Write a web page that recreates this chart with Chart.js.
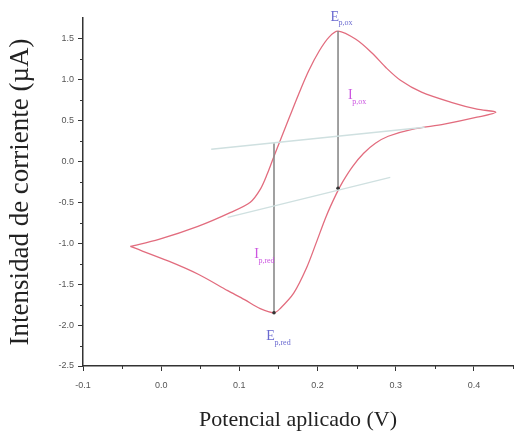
<!DOCTYPE html>
<html>
<head>
<meta charset="utf-8">
<script src="https://cdn.jsdelivr.net/npm/chart.js@4/dist/chart.umd.min.js"></script>
<style>
  html, body { margin: 0; padding: 0; background: #fff; }
  #wrap { width: 517px; height: 435px; }
</style>
</head>
<body>
<div id="wrap"><canvas id="c" width="517" height="435"></canvas></div>
<script>
// Cyclic voltammogram: potential (V) and current (µA), traced in scan order
const cvPotential = [-0.0395, -0.003, 0.047, 0.089, 0.114, 0.1267, 0.1355, 0.1443, 0.1544, 0.1645, 0.1758, 0.1884, 0.2023, 0.215, 0.2262,
  0.249, 0.27, 0.288, 0.306, 0.333, 0.371, 0.404, 0.428,
  0.404, 0.362, 0.321, 0.2904, 0.274, 0.259, 0.245, 0.2325, 0.2237, 0.211, 0.1985, 0.186, 0.1695, 0.152, 0.1443,
  0.1267, 0.1066, 0.0851, 0.0474, 0.0096, -0.0395];
const cvCurrent = [-1.04, -0.954, -0.795, -0.624, -0.50, -0.343, -0.159, 0.061, 0.306, 0.55, 0.82, 1.10, 1.35, 1.52, 1.59,
  1.49, 1.32, 1.14, 0.99, 0.844, 0.72, 0.636, 0.60,
  0.538, 0.453, 0.39, 0.306, 0.22, 0.098, -0.061, -0.245, -0.404, -0.673, -0.99, -1.30, -1.61, -1.80, -1.85,
  -1.80, -1.69, -1.58, -1.38, -1.22, -1.04];

// Baselines (extrapolated capacitive currents)
const baseRedPotential = [0.064, 0.337];
const baseRedCurrent = [0.147, 0.416];
const baseOxPotential = [0.085, 0.293];
const baseOxCurrent = [-0.685, -0.196];

// Peak current markers (vertical lines)
const peakRedPotential = [0.1443, 0.1443];
const peakRedCurrent = [0.22, -1.85];
const peakOxPotential = [0.2262, 0.2262];
const peakOxCurrent = [1.59, -0.33];

// Axis ticks
const xTicks = [-0.1, 0.0, 0.1, 0.2, 0.3, 0.4];
const yTicks = [-2.5, -2.0, -1.5, -1.0, -0.5, 0.0, 0.5, 1.0, 1.5];
const xMinorTicks = [-0.05, 0.05, 0.15, 0.25, 0.35, 0.45];
const yMinorTicks = [-2.25, -1.75, -1.25, -0.75, -0.25, 0.25, 0.75, 1.25];

// Annotation labels: main letter, subscript, anchor (E, I)
const labelMain = ['E', 'I', 'I', 'E'];
const labelSub = ['p,ox', 'p,ox', 'p,red', 'p,red'];
const labelE = [0.222, 0.242, 0.122, 0.140];
const labelI = [1.76, 0.80, -1.14, -2.14];
const labelColor = ['#6a6ad0', '#cc55e0', '#cc55e0', '#6a6ad0'];

const toXY = (xs, ys) => xs.map((x, i) => ({ x: x, y: ys[i] }));

const minorTicksPlugin = {
  id: 'minorTicks',
  afterDraw(chart) {
    const ctx = chart.ctx;
    const xs = chart.scales.x, ys = chart.scales.y;
    const a = chart.chartArea;
    ctx.save();
    ctx.strokeStyle = '#333';
    ctx.lineWidth = 1;
    ctx.beginPath();
    xMinorTicks.forEach(v => {
      const p = Math.round(xs.getPixelForValue(v)) + 0.5;
      ctx.moveTo(p, a.bottom); ctx.lineTo(p, a.bottom + 3);
    });
    yMinorTicks.forEach(v => {
      const p = Math.round(ys.getPixelForValue(v)) + 0.5;
      ctx.moveTo(a.left, p); ctx.lineTo(a.left - 3, p);
    });
    ctx.stroke();
    // annotation labels
    labelMain.forEach((t, i) => {
      const px = xs.getPixelForValue(labelE[i]);
      const py = ys.getPixelForValue(labelI[i]);
      ctx.fillStyle = labelColor[i];
      ctx.font = '14px "Liberation Serif", serif';
      ctx.textAlign = 'left';
      ctx.textBaseline = 'middle';
      const w = ctx.measureText(t).width;
      ctx.fillText(t, px - w / 2, py);
      ctx.font = '8px "Liberation Serif", serif';
      ctx.fillText(labelSub[i], px + w / 2 - 0.5, py + 6);
    });
    ctx.restore();
  }
};

new Chart(document.getElementById('c'), {
  type: 'scatter',
  data: {
    datasets: [
      { data: toXY(baseRedPotential, baseRedCurrent), showLine: true, borderColor: '#cfe0e0', borderWidth: 1.3, pointRadius: 0 },
      { data: toXY(baseOxPotential, baseOxCurrent), showLine: true, borderColor: '#cfe0e0', borderWidth: 1.3, pointRadius: 0 },
      { data: toXY(peakRedPotential, peakRedCurrent), showLine: true, borderColor: '#8a8a8a', borderWidth: 1.6, pointRadius: [0, 1.8], pointBackgroundColor: '#333', pointBorderWidth: 0 },
      { data: toXY(peakOxPotential, peakOxCurrent), showLine: true, borderColor: '#8a8a8a', borderWidth: 1.6, pointRadius: [0, 1.8], pointBackgroundColor: '#333', pointBorderWidth: 0 },
      { data: toXY(cvPotential, cvCurrent), showLine: true, borderColor: '#e26c7e', borderWidth: 1.3, pointRadius: 0, tension: 0.3 }
    ]
  },
  options: {
    responsive: false,
    animation: false,
    devicePixelRatio: 1,
    layout: { padding: { top: 18, right: 0, left: 0, bottom: 0 } },
    plugins: { legend: { display: false }, tooltip: { enabled: false } },
    scales: {
      x: {
        type: 'linear', min: -0.1, max: 0.45,
        afterBuildTicks: s => { s.ticks = xTicks.map(v => ({ value: v })); },
        afterFit: s => { s.height = 69; },
        grid: { drawOnChartArea: false, tickLength: 5, color: '#333', tickWidth: 1 },
        border: { display: true, color: '#333', width: 1.5 },
        ticks: { color: '#555', font: { family: 'Liberation Sans', size: 9 }, padding: 9, maxRotation: 0,
          callback: v => v.toFixed(1) },
        title: { display: true, text: 'Potencial aplicado (V)', color: '#222',
          font: { family: 'Liberation Serif', size: 22 }, padding: { top: 0, bottom: 2 } }
      },
      y: {
        type: 'linear', min: -2.5, max: 1.75,
        afterBuildTicks: s => { s.ticks = yTicks.map(v => ({ value: v })); },
        afterFit: s => { s.width = 83; },
        grid: { drawOnChartArea: false, tickLength: 5, color: '#333', tickWidth: 1 },
        border: { display: true, color: '#333', width: 1.5 },
        ticks: { color: '#555', font: { family: 'Liberation Sans', size: 9 }, padding: 4,
          callback: v => v.toFixed(1) },
        title: { display: true, text: 'Intensidad de corriente (µA)', color: '#222',
          font: { family: 'Liberation Serif', size: 27 }, padding: { top: 5, bottom: 0 } }
      }
    }
  },
  plugins: [minorTicksPlugin]
});
</script>
</body>
</html>
